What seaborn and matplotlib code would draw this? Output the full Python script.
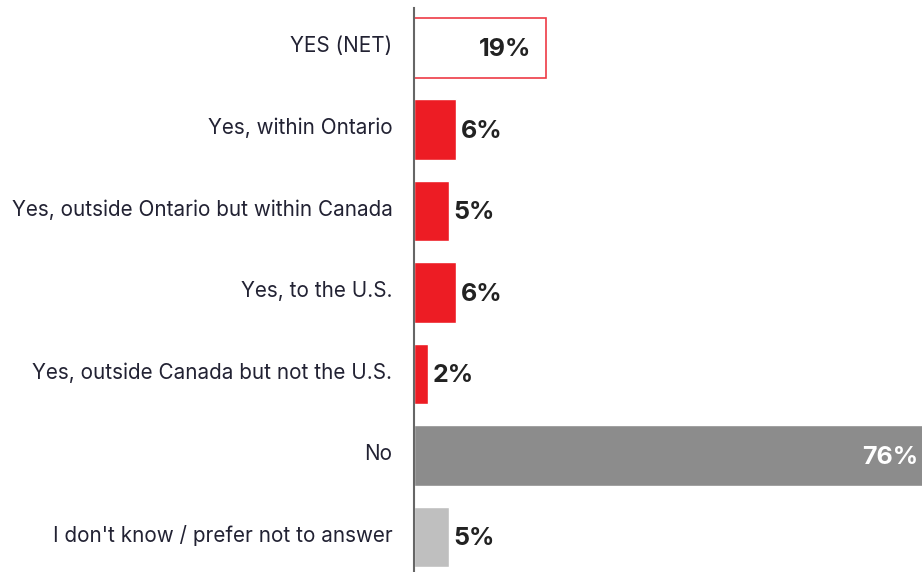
import matplotlib
matplotlib.use("Agg")
import matplotlib.pyplot as plt
import seaborn as sns
import pandas as pd
from matplotlib.transforms import offset_copy, ScaledTranslation

categories = ["YES (NET)", "Yes, within Ontario", "Yes, outside Ontario but within Canada",
              "Yes, to the U.S.", "Yes, outside Canada but not the U.S.", "No",
              "I don't know / prefer not to answer"]
values = [19, 6, 5, 6, 2, 76, 5]
value_labels = ["19%", "6%", "5%", "6%", "2%", "76%", "5%"]
colors = ["#FFFFFF", "#ED1C24", "#ED1C24", "#ED1C24", "#ED1C24", "#8C8C8C", "#BFBFBF"]

sns.set_theme(style="white")
plt.rcParams['font.family'] = ['Inter', 'DejaVu Sans']

df = pd.DataFrame({"cat": categories, "val": values})
fig = plt.figure(figsize=(9.22, 5.72), dpi=100)
W, H = 922, 572
ax = fig.add_axes([414 / W, 0, 1 - 414 / W, 1 - 8 / H])

sns.barplot(data=df, x="val", y="cat", hue="cat", palette=colors, legend=False,
            orient="h", ax=ax, width=0.74, saturation=1)

bars = ax.patches
bars[0].set_edgecolor("#EE3B45")
bars[0].set_linewidth(1.2)

ax.set_xlim(0, 73.1)
ax.set_ylim(6.43, -0.49)
ax.set_xlabel("")
ax.set_ylabel("")
ax.set_xticks([])
ax.tick_params(axis="y", length=0, pad=15.5, labelsize=14.9, labelcolor="#222233")
shift = ScaledTranslation(0, 3.5 / 100, fig.dpi_scale_trans)
for lbl in ax.get_yticklabels():
    lbl.set_transform(lbl.get_transform() + shift)
for s in ["top", "right", "bottom"]:
    ax.spines[s].set_visible(False)
ax.spines["left"].set_color("#666666")
ax.spines["left"].set_linewidth(1.5)

for i, (v, lab) in enumerate(zip(values, value_labels)):
    if i in (0, 5):
        off = -15 if i == 0 else -24
        tr = offset_copy(ax.transData, fig=fig, x=off, y=-2, units="dots")
        color = "#222222" if i == 0 else "#FFFFFF"
        ax.text(v, i, lab, transform=tr, ha="right", va="center", fontsize=18,
                fontweight="bold", color=color)
    else:
        tr = offset_copy(ax.transData, fig=fig, x=5, y=-2, units="dots")
        ax.text(v, i, lab, transform=tr, ha="left", va="center", fontsize=18,
                fontweight="bold", color="#222222")

fig.savefig("out.png", dpi=100)
